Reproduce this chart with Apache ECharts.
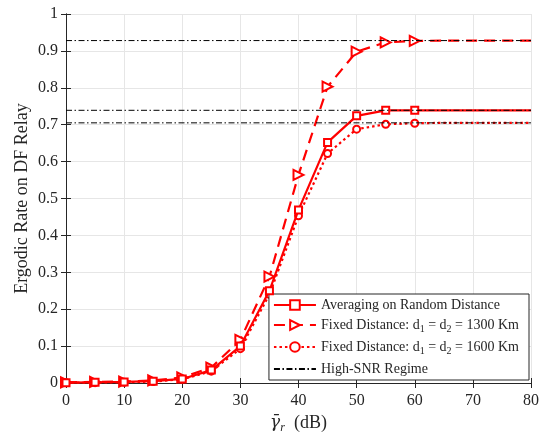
<!DOCTYPE html>
<html>
<head>
<meta charset="utf-8">
<script src="https://cdn.jsdelivr.net/npm/echarts@6/dist/echarts.min.js"></script>
<style>
  html, body { margin: 0; padding: 0; background: #fff; }
  #chart { width: 549px; height: 432px; }
</style>
</head>
<body>
<div id="chart"></div>
<script>
// Average SNR at the relay (dB)
const snrDb = [0, 5, 10, 15, 20, 25, 30, 35, 40, 45, 50, 55, 60, 65, 70, 75, 80];

// Ergodic rate, averaged over random distance
const rateRandom = [0.001, 0.002, 0.003, 0.005, 0.011, 0.035, 0.100, 0.250, 0.469, 0.652, 0.724, 0.739, 0.739, 0.739, 0.739, 0.739, 0.739];
// Ergodic rate, fixed distance d1 = d2 = 1300 km
const rate1300 = [0.002, 0.003, 0.004, 0.007, 0.015, 0.042, 0.117, 0.288, 0.564, 0.803, 0.898, 0.923, 0.927, 0.928, 0.928, 0.928, 0.928];
// Ergodic rate, fixed distance d1 = d2 = 1600 km
const rate1600 = [0.001, 0.001, 0.002, 0.004, 0.010, 0.032, 0.093, 0.240, 0.453, 0.622, 0.688, 0.701, 0.704, 0.705, 0.705, 0.705, 0.705];

// High-SNR asymptotes
const highSnrLevels = [0.928, 0.739, 0.705];

const xTicks = [0, 10, 20, 30, 40, 50, 60, 70, 80];
const yTicks = [0, 0.1, 0.2, 0.3, 0.4, 0.5, 0.6, 0.7, 0.8, 0.9, 1];

const lastMarkerX = 60;
const serif = '"Liberation Serif", "DejaVu Serif", serif';
const ink = '#262626';
const red = '#ff0000';
const dashDot = [6, 2.5, 1.5, 2.5];
const clear = 'rgba(0,0,0,0)';

const pairs = ys => snrDb.map((x, i) => [x, ys[i]]);
const markerSize = s => (v => (v[0] > lastMarkerX ? 0 : s));

// asymptotes as one broken polyline spanning the x range
const asymptoteData = [];
highSnrLevels.forEach((v, i) => {
  if (i > 0) asymptoteData.push(['-', '-']);
  asymptoteData.push([xTicks[0], v], [xTicks[xTicks.length - 1], v]);
});

const chart = echarts.init(document.getElementById('chart'), null, { renderer: 'canvas' });

const tickLabel = { fontFamily: serif, fontSize: 16, color: ink };
const axisLineStyle = { lineStyle: { color: ink, width: 1 } };
const tickStyle = { show: true, inside: true, length: 5, lineStyle: { color: ink } };

chart.setOption({
  animation: false,
  backgroundColor: '#ffffff',
  grid: { left: 66, right: 18, top: 14, bottom: 49, containLabel: false, outerBoundsMode: 'none' },
  xAxis: [
    {
      type: 'value', min: 0, max: 80, interval: 10,
      name: '{g|γ̄}{s|r}{t|  (dB)}',
      nameLocation: 'middle', nameGap: 28,
      nameTextStyle: {
        fontFamily: serif, fontSize: 18, color: ink,
        rich: {
          g: { fontFamily: '"DejaVu Serif", serif', fontSize: 17, fontStyle: 'italic', color: ink },
          s: { fontFamily: serif, fontSize: 12, fontStyle: 'italic', color: ink, verticalAlign: 'bottom', padding: [9, 0, 0, 0] },
          t: { fontFamily: serif, fontSize: 18, color: ink }
        }
      },
      axisLine: axisLineStyle,
      axisTick: tickStyle,
      axisLabel: Object.assign({ margin: 10, formatter: v => (xTicks.includes(v) ? String(v) : '') }, tickLabel),
      splitLine: { show: true, lineStyle: { color: '#e6e6e6', width: 1 } }
    },
    {
      type: 'value', min: 0, max: 80, interval: 10, position: 'top',
      axisLine: axisLineStyle,
      axisTick: tickStyle,
      axisLabel: { show: false },
      splitLine: { show: false }
    }
  ],
  yAxis: [
    {
      type: 'value', min: 0, max: 1, interval: 0.1,
      name: 'Ergodic Rate on DF Relay',
      nameLocation: 'middle', nameGap: 35, nameMoveOverlap: false,
      nameTextStyle: { fontFamily: serif, fontSize: 18, color: ink },
      axisLine: axisLineStyle,
      axisTick: tickStyle,
      axisLabel: Object.assign({
        margin: 8,
        formatter: v => {
          const t = yTicks.find(k => Math.abs(k - v) < 1e-9);
          return t === undefined ? '' : (t === 0 ? '0' : (t === 1 ? '1' : t.toFixed(1)));
        }
      }, tickLabel),
      splitLine: { show: true, lineStyle: { color: '#e6e6e6', width: 1 } }
    },
    {
      type: 'value', min: 0, max: 1, interval: 0.1, position: 'right',
      axisLine: axisLineStyle,
      axisTick: tickStyle,
      axisLabel: { show: false },
      splitLine: { show: false }
    }
  ],
  legend: {
    right: 20, bottom: 52,
    orient: 'vertical',
    align: 'left',
    backgroundColor: '#ffffff',
    borderColor: ink, borderWidth: 1, borderRadius: 0,
    padding: [4, 10, 4, 4],
    itemWidth: 42, itemHeight: 12, itemGap: 6,
    textStyle: {
      fontFamily: serif, fontSize: 14, color: ink,
      rich: {
        t: { fontFamily: serif, fontSize: 14, color: ink },
        sub: { fontFamily: serif, fontSize: 10, color: ink, verticalAlign: 'bottom', padding: [8, 0, 0, 0] }
      }
    },
    formatter: name => {
      const m = name.match(/^(Fixed Distance: )d1 = d2 = (.*)$/);
      if (m) return '{t|' + m[1] + 'd}{sub|1}{t| = d}{sub|2}{t| = ' + m[2] + '}';
      return '{t|' + name + '}';
    },
    data: [
      'Averaging on Random Distance',
      'Fixed Distance: d1 = d2 = 1300 Km',
      'Fixed Distance: d1 = d2 = 1600 Km',
      { name: 'High-SNR Regime', itemStyle: { color: clear, borderColor: clear, borderWidth: 0 } }
    ]
  },
  series: [
    {
      name: 'Averaging on Random Distance',
      type: 'line', data: pairs(rateRandom), z: 4,
      symbol: 'emptyRect', symbolSize: markerSize(7),
      itemStyle: { color: red, borderWidth: 2 },
      lineStyle: { color: red, width: 2.2, type: 'solid' }
    },
    {
      name: 'Fixed Distance: d1 = d2 = 1300 Km',
      type: 'line', data: pairs(rate1300), z: 3,
      symbol: 'emptyTriangle', symbolRotate: -90, symbolSize: markerSize(10),
      itemStyle: { color: red, borderWidth: 2 },
      lineStyle: { color: red, width: 2.2, type: [11, 7] }
    },
    {
      name: 'Fixed Distance: d1 = d2 = 1600 Km',
      type: 'line', data: pairs(rate1600), z: 3,
      symbol: 'emptyCircle', symbolSize: markerSize(7),
      itemStyle: { color: red, borderWidth: 2 },
      lineStyle: { color: red, width: 2.2, type: [2.5, 3] }
    },
    {
      name: 'High-SNR Regime',
      type: 'line', data: asymptoteData, z: 5,
      symbol: 'none', showSymbol: false, connectNulls: false,
      itemStyle: { color: '#000000' },
      lineStyle: { color: '#000000', width: 1, type: dashDot }
    }
  ]
});
</script>
</body>
</html>
